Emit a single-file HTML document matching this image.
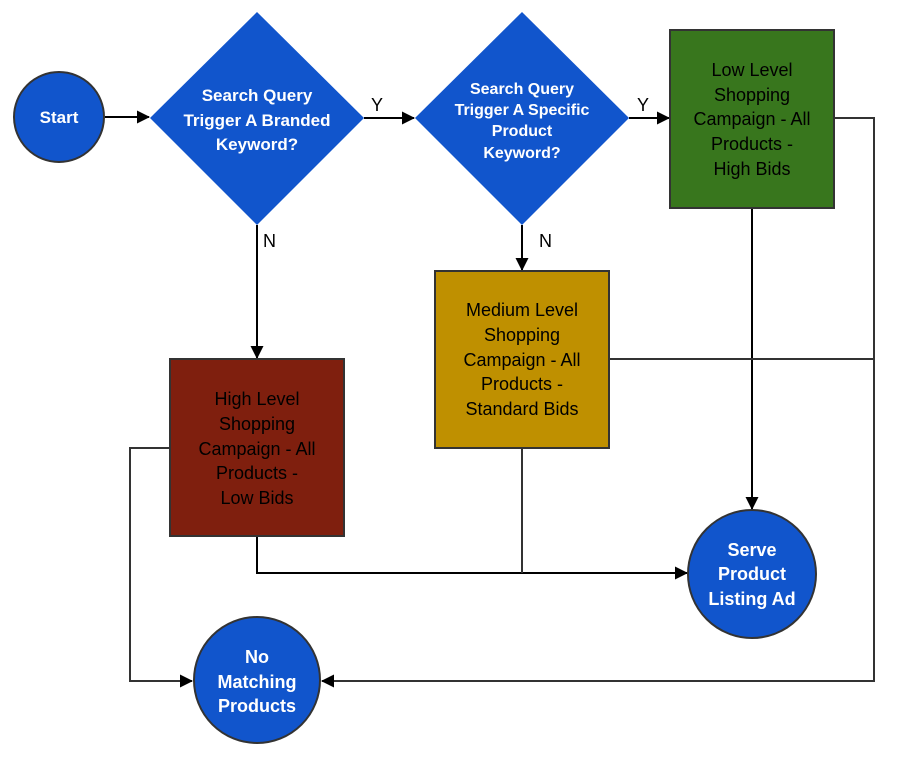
<!DOCTYPE html>
<html><head><meta charset="utf-8"><style>
html,body{margin:0;padding:0;background:#fff;}
svg{display:block;}
text{font-family:"Liberation Sans",sans-serif;text-anchor:middle;}
.w{fill:#fff;font-size:17px;font-weight:bold;}
.b{fill:#000;font-size:18px;}
.l{fill:#000;font-size:18px;text-anchor:start;}
</style></head><body>
<svg width="898" height="764" viewBox="0 0 898 764" xmlns="http://www.w3.org/2000/svg">
<defs>
<marker id="a" markerWidth="13" markerHeight="13" refX="12" refY="6.5" orient="auto" markerUnits="userSpaceOnUse">
<path d="M0,0 L13,6.5 L0,13 z" fill="#000"/></marker>
</defs>
<g fill="none" stroke-width="2">
<path d="M105,117 H149" stroke="#000" marker-end="url(#a)"/>
<path d="M364,118 H414" stroke="#000" marker-end="url(#a)"/>
<path d="M629,118 H669" stroke="#000" marker-end="url(#a)"/>
<path d="M257,225 V358" stroke="#000" marker-end="url(#a)"/>
<path d="M522,225 V270" stroke="#000" marker-end="url(#a)"/>
<path d="M752,208 V509" stroke="#000" marker-end="url(#a)"/>
<path d="M834,118 H874 V681 H322" stroke="#333" marker-end="url(#a)"/>
<path d="M609,359 H874" stroke="#333"/>
<path d="M170,448 H130 V681 H192" stroke="#333" marker-end="url(#a)"/>
<path d="M257,536 V573 H687" stroke="#000" marker-end="url(#a)"/>
<path d="M522,448 V573" stroke="#333"/>
</g>
<circle cx="59" cy="117" r="45" fill="#1155cc" stroke="#333" stroke-width="2"/>
<text class="w" x="59" y="123">Start</text>
<polygon points="257,12 364,118 257,225 150,118" fill="#1155cc"/>
<text class="w" x="257" y="101">Search Query</text>
<text class="w" x="257" y="126">Trigger A Branded</text>
<text class="w" x="257" y="150">Keyword?</text>
<polygon points="522,12 629,118 522,225 415,118" fill="#1155cc"/>
<text class="w" x="522" y="94" style="font-size:16px">Search Query</text>
<text class="w" x="522" y="115" style="font-size:16px">Trigger A Specific</text>
<text class="w" x="522" y="136" style="font-size:16px">Product</text>
<text class="w" x="522" y="158" style="font-size:16px">Keyword?</text>
<rect x="670" y="30" width="164" height="178" fill="#38761d" stroke="#333" stroke-width="2"/>
<text class="b" x="752" y="76">Low Level</text>
<text class="b" x="752" y="101">Shopping</text>
<text class="b" x="752" y="125">Campaign - All</text>
<text class="b" x="752" y="150">Products -</text>
<text class="b" x="752" y="175">High Bids</text>
<rect x="435" y="271" width="174" height="177" fill="#bf9000" stroke="#333" stroke-width="2"/>
<text class="b" x="522" y="316">Medium Level</text>
<text class="b" x="522" y="341">Shopping</text>
<text class="b" x="522" y="366">Campaign - All</text>
<text class="b" x="522" y="390">Products -</text>
<text class="b" x="522" y="415">Standard Bids</text>
<rect x="170" y="359" width="174" height="177" fill="#7f1f0e" stroke="#333" stroke-width="2"/>
<text class="b" x="257" y="405">High Level</text>
<text class="b" x="257" y="430">Shopping</text>
<text class="b" x="257" y="455">Campaign - All</text>
<text class="b" x="257" y="479">Products -</text>
<text class="b" x="257" y="504">Low Bids</text>
<circle cx="752" cy="574" r="64" fill="#1155cc" stroke="#333" stroke-width="2"/>
<text class="w" x="752" y="556" style="font-size:18px">Serve</text>
<text class="w" x="752" y="580" style="font-size:18px">Product</text>
<text class="w" x="752" y="605" style="font-size:18px">Listing Ad</text>
<circle cx="257" cy="680" r="63" fill="#1155cc" stroke="#333" stroke-width="2"/>
<text class="w" x="257" y="663" style="font-size:18px">No</text>
<text class="w" x="257" y="688" style="font-size:18px">Matching</text>
<text class="w" x="257" y="712" style="font-size:18px">Products</text>
<text class="l" x="371" y="111">Y</text>
<text class="l" x="637" y="111">Y</text>
<text class="l" x="263" y="247">N</text>
<text class="l" x="539" y="247">N</text>
</svg>
</body></html>
